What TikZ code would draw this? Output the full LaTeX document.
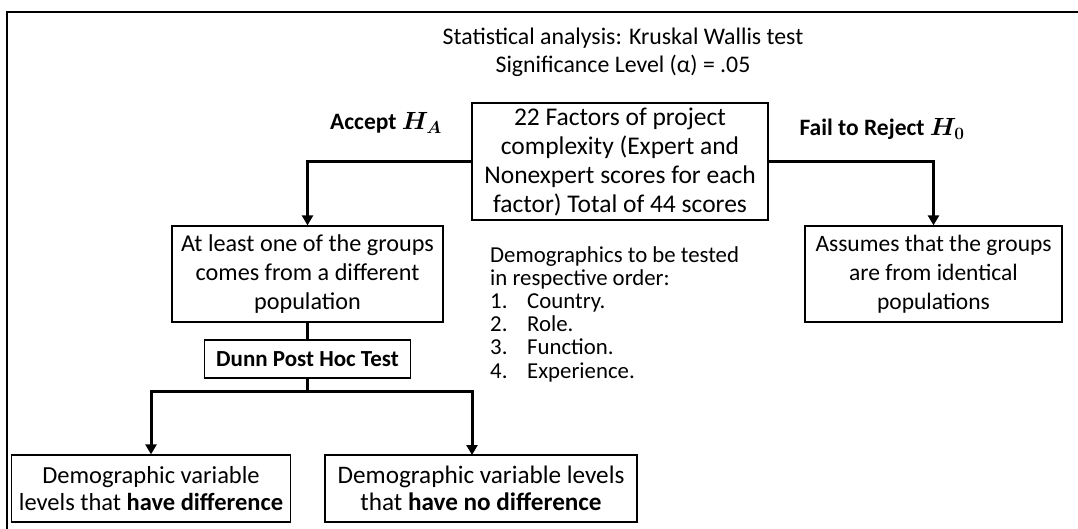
\documentclass[tikz,border=0pt]{standalone}
\usepackage{fontspec}
\setmainfont{Carlito}
\usetikzlibrary{arrows.meta}
\tikzset{
  box/.style={draw, line width=1.3pt, align=center, inner sep=0pt},
  lbl/.style={align=center, inner sep=0pt},
  conn/.style={line width=3pt, -{Triangle[width=11pt,length=10pt]}},
  link/.style={line width=3pt},
}
\begin{document}
\begin{tikzpicture}[x=1pt,y=-1pt]
\clip (0,0) rectangle (1078,529);
\draw[line width=2.2pt] (1100,12) -- (7,12) -- (7,560);
\node[lbl, font=\fontsize{23.8}{28}\selectfont] (title) at (623,52) {Statistical analysis: Kruskal Wallis test\\Significance Level (α) = .05};
\node[box, minimum width=296pt, minimum height=117pt, font=\fontsize{25.5}{29}\selectfont] (main) at (620,161.5)
  {22 Factors of project\\complexity (Expert and\\Nonexpert scores for each\\factor) Total of 44 scores};
\node[lbl, font=\fontsize{23.5}{28}\bfseries] (accept) at (386,123) {Accept {\boldmath$H_A$}};
\node[lbl, font=\fontsize{23.5}{28}\bfseries] (fail) at (882,129) {Fail to Reject {\boldmath$H_0$}};
\node[box, minimum width=271pt, minimum height=96pt, font=\fontsize{24.2}{29}\selectfont] (left) at (307.5,274)
  {At least one of the groups\\comes from a different\\population};
\node[box, minimum width=257pt, minimum height=96pt, font=\fontsize{23.5}{29}\selectfont] (right) at (933.5,274)
  {Assumes that the groups\\are from identical\\populations};
\node[lbl, align=left, anchor=north west, font=\fontsize{22.8}{23.2}\selectfont] (demo) at (490,246)
  {Demographics to be tested\\in respective order:\\
   \makebox[37pt][l]{1.}Country.\\
   \makebox[37pt][l]{2.}Role.\\
   \makebox[37pt][l]{3.}Function.\\
   \makebox[37pt][l]{4.}Experience.};
\node[box, minimum width=206pt, minimum height=38pt, font=\fontsize{23}{29}\bfseries] (dunn) at (307.5,359) {Dunn Post Hoc Test};
\node[box, minimum width=279pt, minimum height=67pt, font=\fontsize{24.5}{27}\selectfont] (bl) at (151,488.5)
  {Demographic variable\\levels that \textbf{have difference}};
\node[box, minimum width=312pt, minimum height=67pt, font=\fontsize{25.2}{27}\selectfont] (br) at (481,488.5)
  {Demographic variable levels\\that \textbf{have no difference}};
\coordinate (split) at (307.5,391);
\coordinate (brtop) at (472,455);
\draw[conn] (main.west) -| (left.north);
\draw[conn] (main.east) -| (right.north);
\draw[link] (left.south) -- (dunn.north);
\draw[link] (dunn.south) -- (split);
\draw[conn] (split) -| (bl.north);
\draw[conn] (split) -| (brtop);
\end{tikzpicture}
\end{document}
